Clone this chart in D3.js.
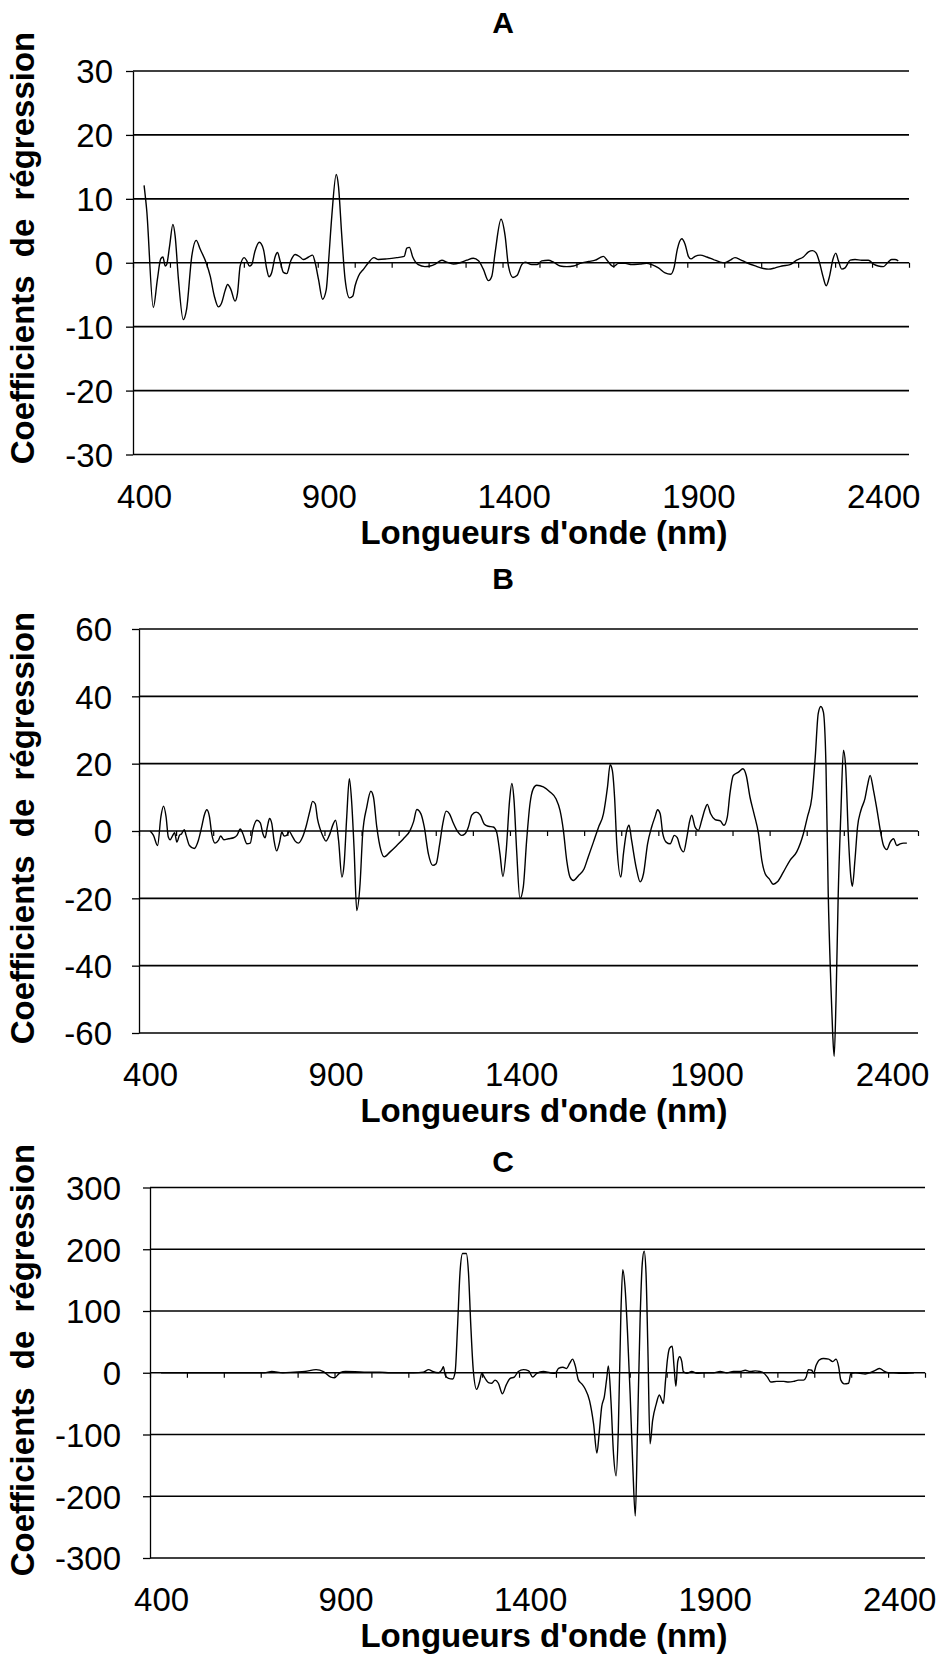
<!DOCTYPE html>
<html><head><meta charset="utf-8">
<script src="https://cdn.jsdelivr.net/npm/d3@7"></script>
<style>body{margin:0;background:#fff}</style>
</head><body><svg id="chart" width="941" height="1656"></svg>
<script>
// ---------- data ----------
const xTickLabels = [400, 900, 1400, 1900, 2400];
const xDomain = [370, 2470];
const xMinorTicks = d3.range(370, 2471, 100);
const yTicksA = [-30, -20, -10, 0, 10, 20, 30];
const yTicksB = [-60, -40, -20, 0, 20, 40, 60];
const yTicksC = [-300, -200, -100, 0, 100, 200, 300];
const panelTitles = ["A", "B", "C"];
const xTitle = "Longueurs d'onde (nm)";
const yTitle = "Coefficients de régression";

const wlA = [400,407,425,436,445,451,457,461,469,478,484,493,506,515,529,541,552,568,579,590,601,610,619,626,635,646,653,660,671,678,685,691,700,712,723,732,738,745,755,761,768,777,786,797,809,822,831,845,856,863,872,883,893,899,908,920,926,935,944,956,965,971,980,994,1007,1022,1034,1057,1084,1104,1111,1118,1127,1142,1160,1174,1188,1206,1219,1237,1255,1273,1291,1305,1318,1332,1341,1350,1366,1377,1386,1398,1409,1422,1431,1449,1463,1476,1494,1508,1526,1544,1562,1580,1603,1621,1634,1643,1654,1670,1684,1702,1720,1742,1760,1774,1792,1810,1825,1834,1843,1855,1864,1873,1880,1891,1905,1923,1941,1959,1972,1986,1999,2013,2031,2054,2076,2090,2108,2126,2148,2166,2184,2198,2209,2219,2228,2237,2246,2255,2264,2272,2279,2288,2297,2311,2324,2342,2360,2374,2387,2401,2412,2423,2432,2441];
const coefA = [12.1,8.3,-7.0,-2.6,0.6,0.9,-0.5,-0.3,2.6,6.0,4.2,-2.6,-8.9,-7.3,1.0,3.5,2.1,0,-2.1,-5.2,-6.9,-6.25,-4.4,-3.4,-4.2,-6.0,-4.7,-0.5,0.8,0.3,-0.5,-0.3,1.8,3.2,2.1,-1.0,-2.2,-1.6,1.0,1.6,0.3,-1.5,-1.7,0.3,1.3,0.9,0.5,0.9,1.2,0,-2.6,-5.7,-4.2,0,7.3,13.8,12.0,4.2,-2.6,-5.5,-5.2,-3.6,-2.1,-1.0,0,0.8,0.5,0.6,0.8,1.0,2.3,2.4,0.9,-0.3,-0.6,-0.5,-0.2,0.4,0.1,-0.2,0,0.4,0.7,0.3,-1.0,-2.8,-2.1,1.6,6.8,4.2,-0.5,-2.3,-2.0,-0.3,0.1,-0.3,-0.3,0.3,0.4,0.1,-0.5,-0.6,-0.5,-0.1,0.2,0.4,0.8,1.0,0.3,-0.6,-0.1,-0.1,-0.3,-0.2,-0.1,-0.3,-0.8,-1.6,-1.8,-0.8,2.1,3.75,2.9,1.0,0.6,1.0,1.2,0.9,0.5,0.1,0,0.4,0.8,0.5,0,-0.5,-0.9,-1.0,-0.8,-0.5,-0.3,0.4,0.9,1.7,1.9,1.5,0,-2.1,-3.6,-2.1,0.5,1.5,0.3,-1.0,-0.8,0.4,0.5,0.4,0.4,-0.2,-0.5,-0.6,0,0.5,0.5,0.3];

const wlB = [400,409,420,429,436,443,449,454,461,466,472,479,485,492,497,506,519,530,539,546,553,560,566,575,584,590,599,611,625,634,643,650,661,670,677,688,697,704,710,716,722,728,734,741,749,755,761,768,775,782,791,800,811,820,831,838,845,851,858,867,874,883,894,900,908,917,923,930,937,943,950,957,966,973,984,995,1002,1011,1022,1031,1047,1065,1083,1101,1110,1119,1130,1139,1150,1162,1171,1180,1189,1198,1207,1216,1227,1240,1249,1258,1267,1279,1290,1301,1312,1325,1334,1343,1351,1360,1369,1375,1381,1388,1397,1406,1415,1424,1433,1442,1460,1478,1494,1505,1514,1523,1532,1541,1555,1570,1581,1595,1609,1622,1633,1640,1646,1652,1658,1669,1676,1685,1691,1698,1710,1721,1730,1741,1752,1761,1768,1775,1782,1791,1802,1813,1821,1829,1838,1847,1854,1860,1869,1878,1887,1896,1902,1911,1923,1937,1947,1956,1963,1972,1986,1998,2007,2017,2028,2040,2049,2058,2069,2080,2091,2107,2125,2143,2161,2172,2184,2193,2201,2208,2215,2222,2228,2235,2240,2244,2249,2255,2262,2269,2275,2282,2289,2293,2300,2307,2316,2327,2334,2341,2350,2359,2370,2377,2386,2395,2404,2413,2422,2431,2440];
const coefB = [0,-1.3,-4.3,4.2,7.4,4.2,-1.8,-2.6,-1.3,-0.5,-3.3,-1.3,-0.8,0.4,-1.3,-4.3,-5.2,-2.8,1.2,4.7,6.3,4.2,-0.8,-3.6,-2.8,-1.5,-2.6,-2.3,-2.0,-1.3,0.6,-0.8,-3.8,-3.6,0.4,3.2,2.4,-0.8,-2.0,1.2,3.7,2.2,-2.8,-5.9,-3.3,-0.3,-1.5,-1.3,-0.1,-1.3,-3.0,-3.6,-1.8,1.2,6.1,8.8,8.1,3.7,0.7,-1.8,-3.0,-1.3,2.2,3.2,-2.8,-13.7,-9.7,4.2,15.5,9.1,-5.7,-23.6,-15.6,-0.8,7.1,11.8,10.1,1.2,-5.7,-7.7,-6.2,-4.3,-2.3,0.2,2.7,6.4,5.1,1.2,-6.7,-10.2,-9.7,-4.3,2.2,5.9,5.1,2.7,0.2,-1.3,-0.8,1.2,4.7,5.6,4.7,2.0,1.4,1.2,-0.3,-6.7,-13.5,-5.7,9.1,14.1,9.1,-5.7,-20.1,-16.6,-2.8,8.1,12.6,13.6,13.1,11.6,9.6,6.1,0.2,-8.7,-13.7,-14.7,-13.2,-11.2,-7.7,-3.3,1.2,5.1,13.1,19.7,18.0,10.1,-3.8,-13.7,-6.7,0.2,1.7,-2.8,-10.7,-15.1,-12.7,-3.8,1.2,4.2,6.3,5.1,-0.8,-3.3,-3.8,-1.3,-2.0,-4.8,-6.2,-1.8,2.7,4.7,1.2,0.2,3.2,6.6,7.9,5.1,3.4,3.0,1.7,4.2,11.1,16.5,17.5,18.5,16.5,10.1,5.1,-0.8,-8.7,-12.7,-14.2,-15.8,-15.1,-12.2,-8.7,-6.2,-0.8,4.2,10.1,22.0,34.9,37.0,35.3,19.0,-18.6,-45.3,-60.2,-66.9,-50.3,-18.6,5.1,24.0,19.0,-0.8,-13.7,-16.4,-8.7,1.2,6.1,9.6,13.6,16.5,12.1,6.6,-0.8,-4.3,-5.5,-3.3,-2.3,-4.3,-3.8,-3.6,-3.6];

const wlC = [400,500,600,680,700,730,760,790,820,840,860,870,885,900,950,993,1021,1084,1111,1125,1136,1152,1161,1165,1170,1179,1190,1197,1203,1210,1217,1227,1233,1239,1246,1255,1263,1269,1278,1287,1296,1305,1314,1325,1335,1346,1357,1368,1382,1396,1407,1418,1436,1454,1468,1477,1489,1499,1507,1515,1522,1531,1540,1549,1561,1572,1581,1587,1594,1601,1608,1612,1619,1626,1633,1639,1646,1651,1657,1664,1671,1678,1685,1691,1698,1704,1709,1714,1719,1725,1732,1742,1750,1757,1761,1767,1772,1778,1785,1790,1795,1800,1805,1811,1815,1825,1838,1852,1874,1897,1915,1933,1951,1969,1983,1996,2010,2023,2032,2043,2052,2068,2087,2100,2114,2127,2141,2148,2154,2163,2168,2175,2184,2195,2209,2220,2229,2236,2242,2251,2263,2269,2281,2294,2308,2321,2335,2347,2358,2371,2385,2403,2440];
const coefC = [0,0,0,0,2,0,1,2,5,2,-7,-8,0,2,1,1,0,0,1,5,2,0,5,10,-4,-9,-10,2,70,162,193,193,162,80,4,-27,-15,-1,-9,-16,-17,-12,-17,-34,-20,-9,-7,2,5,3,-7,-1,2,0,-1,7,9,7,15,22,12,-12,-18,-26,-45,-83,-130,-99,-55,-39,-7,11,-45,-132,-167,-93,97,167,140,64,-34,-148,-232,-93,86,178,197,162,42,-115,-77,-50,-36,-45,-50,-12,21,40,43,10,-22,18,26,18,2,-1,2,-1,0,0,2,0,2,2,4,2,3,2,0,-7,-15,-14,-14,-15,-14,-12,-12,-7,5,4,-1,12,21,23,22,18,22,10,-12,-18,-17,-1,0,-1,-2,0,4,7,3,0,0,-1,0];

// ---------- layout ----------
const panels = [
  {title: panelTitles[0], wl: wlA, coef: coefA, yTicks: yTicksA, left: 133, right: 909, top: 71, bottom: 454.5, pad: 13, titleY: 33, yTitleY: 248},
  {title: panelTitles[1], wl: wlB, coef: coefB, yTicks: yTicksB, left: 139, right: 918, top: 629, bottom: 1033, pad: 20, titleY: 589, yTitleY: 828},
  {title: panelTitles[2], wl: wlC, coef: coefC, yTicks: yTicksC, left: 150, right: 925, top: 1187.5, bottom: 1558, pad: 22, titleY: 1172, yTitleY: 1360}
];
const FONT = "'Liberation Sans', Arial, Helvetica, sans-serif";
const fmt = d => String(d);   // plain hyphen-minus, as in the reference
const svg = d3.select("#chart");

panels.forEach(p => {
  const g = svg.append("g");
  const x = d3.scaleLinear().domain(xDomain).range([p.left, p.right]);
  const y = d3.scaleLinear().domain(d3.extent(p.yTicks)).range([p.bottom, p.top]);

  // gridlines
  g.append("g").selectAll("line").data(p.yTicks).join("line")
    .attr("x1", p.left).attr("x2", p.right)
    .attr("y1", d => y(d)).attr("y2", d => y(d))
    .attr("stroke", "#000").attr("stroke-width", 1.7);

  // y axis
  const ya = g.append("g").attr("transform", `translate(${p.left},0)`)
    .call(d3.axisLeft(y).tickValues(p.yTicks).tickFormat(fmt).tickSizeInner(7).tickSizeOuter(0).tickPadding(p.pad));
  ya.attr("font-size", 33).attr("font-family", FONT);
  ya.select(".domain").attr("stroke", "#000").attr("stroke-width", 1.3);
  ya.selectAll(".tick line").attr("stroke", "#000").attr("stroke-width", 1.3);
  ya.selectAll(".tick text").attr("fill", "#000").attr("dy", "0.36em");

  // minor x ticks on zero line
  const xa = g.append("g").attr("transform", `translate(0,${y(0)})`)
    .call(d3.axisBottom(x).tickValues(xMinorTicks).tickSize(5).tickFormat(""));
  xa.select(".domain").remove();
  xa.selectAll(".tick line").attr("stroke", "#000").attr("stroke-width", 1.2);

  // x labels
  const xl = g.append("g").attr("transform", `translate(0,${p.bottom + 53})`)
    .call(d3.axisBottom(x).tickValues(xTickLabels).tickSize(0).tickFormat(fmt));
  xl.select(".domain").remove();
  xl.attr("font-size", 33).attr("font-family", FONT);
  xl.selectAll(".tick text").attr("y", 0).attr("dy", 0).attr("fill", "#000");

  // line
  const line = d3.line().x(d => x(d[0])).y(d => y(d[1])).curve(d3.curveMonotoneX);
  g.append("path").datum(d3.zip(p.wl, p.coef))
    .attr("d", line).attr("fill", "none").attr("stroke", "#000").attr("stroke-width", 1.4)
    .attr("stroke-linejoin", "round");

  // titles
  g.append("text").attr("x", 503).attr("y", p.titleY).attr("text-anchor", "middle")
    .attr("font-family", FONT).attr("font-weight", "bold").attr("font-size", 30).text(p.title);
  g.append("text").attr("x", 544).attr("y", p.bottom + 89).attr("text-anchor", "middle")
    .attr("font-family", FONT).attr("font-weight", "bold").attr("font-size", 33).text(xTitle);
  g.append("text").attr("transform", `translate(34,${p.yTitleY}) rotate(-90)`).attr("text-anchor", "middle")
    .attr("font-family", FONT).attr("font-weight", "bold").attr("font-size", 33)
    .attr("word-spacing", 9).text(yTitle);
});
</script></body></html>
